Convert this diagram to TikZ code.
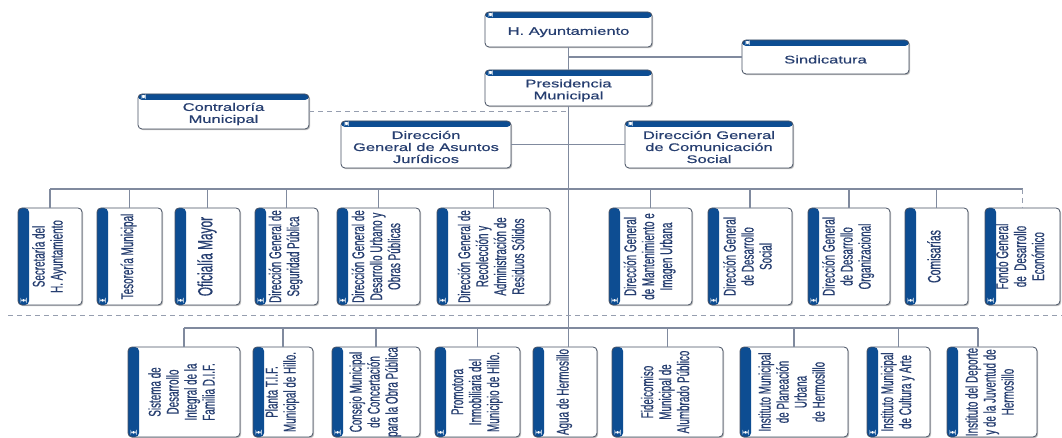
\documentclass[tikz,border=0pt]{standalone}
\usepackage{fontspec}
\usetikzlibrary{shadows}
\setmainfont{Liberation Sans}
\newfontfamily\hfont[FakeStretch=1.5,FakeBold=0.6]{Liberation Sans}
\newfontfamily\vfont[FakeStretch=0.58,FakeBold=0.5]{Liberation Sans}
\definecolor{band}{RGB}{13,77,146}
\definecolor{boxline}{RGB}{70,80,98}
\definecolor{conn}{RGB}{128,138,158}
\definecolor{dconn}{RGB}{150,158,175}
\definecolor{txt}{RGB}{38,62,112}
\newcommand\rottext[2][17]{\rotatebox{90}{\vfont\fontsize{#1}{18}\selectfont\begin{tabular}{@{}c@{}}#2\end{tabular}}}
\tikzset{
  orgbox/.style={draw=boxline, line width=0.8pt, fill=white, rounded corners=4pt,
    inner sep=0pt, text=txt,
    drop shadow={shadow xshift=1.2pt, shadow yshift=-1.2pt, fill=black, opacity=0.25}},
  htext/.style={align=center, font=\hfont\fontsize{11}{12}\selectfont, text=txt, inner sep=0pt, yshift=-2.5pt},
  hunit/.style={orgbox,
    path picture={
      \fill[band] (path picture bounding box.north west) rectangle ([yshift=-6pt]path picture bounding box.north east);
      \fill[white] ([xshift=3.5pt,yshift=-1.2pt]path picture bounding box.north west) rectangle ++(4pt,-3pt);}},
  vunit/.style={orgbox,
    path picture={
      \fill[band] (path picture bounding box.south west) rectangle ([xshift=11pt]path picture bounding box.north west);
      \fill[white] ([xshift=2.5pt,yshift=3.5pt]path picture bounding box.south west) rectangle ++(6pt,2.5pt);}},
  conn/.style={draw=conn, line width=1.1pt},
  dconn/.style={draw=dconn, line width=1pt, dash pattern=on 5pt off 4pt},
}
\begin{document}
\begin{tikzpicture}[x=1pt,y=-1pt]
\useasboundingbox (0,0) rectangle (1062,438);
\clip (0,0) rectangle (1062,438);
% top level boxes
\node[hunit, minimum width=167pt, minimum height=35pt, label={[htext]center:H. Ayuntamiento}] (ayun) at (568.5,29.5) {};
\node[hunit, minimum width=167pt, minimum height=34pt, label={[htext]center:Sindicatura}] (sind) at (825.5,57) {};
\node[hunit, minimum width=167pt, minimum height=36pt, label={[htext]center:{Presidencia\\Municipal}}] (pres) at (568.5,88) {};
\node[hunit, minimum width=171pt, minimum height=35pt, label={[htext]center:{Contraloría\\Municipal}}] (contra) at (223.5,111.5) {};
\node[hunit, minimum width=170pt, minimum height=47pt, label={[htext]center:{Dirección\\General de Asuntos\\Jurídicos}}] (jur) at (426,144.5) {};
\node[hunit, minimum width=168pt, minimum height=47pt, label={[htext]center:{Dirección General\\de Comunicación\\Social}}] (com) at (709,144.5) {};
% middle row
\node[vunit, minimum width=64pt, minimum height=97pt] (m1) at (50,256.5) {\rottext{Secretaría del\\H. Ayuntamiento}};
\node[vunit, minimum width=65pt, minimum height=97pt] (m2) at (129.5,256.5) {\rottext{Tesorería Municipal}};
\node[vunit, minimum width=65pt, minimum height=97pt] (m3) at (207.5,256.5) {\rottext[20.5]{Oficialía Mayor}};
\node[vunit, minimum width=63pt, minimum height=97pt] (m4) at (286.5,256.5) {\rottext{Dirección General de\\Seguridad Pública}};
\node[vunit, minimum width=83pt, minimum height=97pt] (m5) at (378.5,256.5) {\rottext{Dirección General de\\Desarrollo Urbano y\\Obras Públicas}};
\node[vunit, minimum width=113pt, minimum height=97pt] (m6) at (493.5,256.5) {\rottext{Dirección General de\\Recolección y\\Administración de\\Residuos Sólidos}};
\node[vunit, minimum width=83pt, minimum height=97pt] (m7) at (650.5,256.5) {\rottext{Dirección General\\de Mantenimiento e\\Imagen Urbana}};
\node[vunit, minimum width=84pt, minimum height=97pt] (m8) at (750,256.5) {\rottext{Dirección General\\de Desarrollo\\Social}};
\node[vunit, minimum width=82pt, minimum height=97pt] (m9) at (849,256.5) {\rottext{Dirección General\\de Desarrollo\\Organizacional}};
\node[vunit, minimum width=63pt, minimum height=97pt] (m10) at (936.5,256.5) {\rottext[18]{Comisarías}};
\node[vunit, minimum width=75pt, minimum height=97pt] (m11) at (1022.5,256.5) {\rottext{Fondo General\\de\ \ Desarrollo\\Económico}};
% bottom row
\node[vunit, minimum width=112pt, minimum height=90pt] (b1) at (184,392) {\rottext{Sistema de\\Desarrollo\\Integral de la\\Familia D.I.F.}};
\node[vunit, minimum width=60pt, minimum height=90pt] (b2) at (283,392) {\rottext{Planta T.I.F.\\Municipal de Hillo.}};
\node[vunit, minimum width=88pt, minimum height=90pt] (b3) at (376,392) {\rottext{Consejo Municipal\\de Concertación\\para la Obra Pública}};
\node[vunit, minimum width=85pt, minimum height=90pt] (b4) at (477.5,392) {\rottext{Promotora\\Inmobiliaria del\\Municipio de Hillo.}};
\node[vunit, minimum width=64pt, minimum height=90pt] (b5) at (565,392) {\rottext{Agua de Hermosillo}};
\node[vunit, minimum width=111pt, minimum height=90pt] (b6) at (667.5,392) {\rottext{Fideicomiso\\Municipal de\\Alumbrado Público}};
\node[vunit, minimum width=108pt, minimum height=90pt] (b7) at (794,392) {\rottext{Instituto Municipal\\de Planeación\\Urbana\\de Hermosillo}};
\node[vunit, minimum width=63pt, minimum height=90pt] (b8) at (898.5,392) {\rottext{Instituto Municipal\\de Cultura y Arte}};
\node[vunit, minimum width=90pt, minimum height=90pt] (b9) at (992,392) {\rottext{Instituto del Deporte\\y de la Juventud de\\Hermosillo}};
% helper coordinates
\coordinate (bus) at (0,189);
\coordinate (bbus) at (0,328);
\coordinate (sepL) at (8,315);
\coordinate (sepR) at (1062,315);
\coordinate (b9top) at ([xshift=-14pt]b9.north);
% connectors
\draw[conn] (ayun.south) -- (pres.north);
\draw[conn] (ayun.south |- sind.west) -- (sind.west);
\draw[conn] (pres.south) -- (pres.south |- b5.north);
\draw[dconn] (contra.east) -- (pres.south |- contra.east);
\draw[conn] (jur.east) -- (pres.south |- jur.east);
\draw[conn] (com.west) -- (pres.south |- com.west);
\draw[conn] (m1.north |- bus) -- (m11.north |- bus);
\foreach \n in {m1,m2,m3,m4,m5,m6,m7,m8,m9,m10}{\draw[conn] (\n.north) -- (\n.north |- bus);}
\draw[dconn] (m11.north |- bus) -- (m11.north);
\draw[dconn] (sepL) -- (sepR);
\draw[conn] (b1.north |- bbus) -- (b9top |- bbus);
\foreach \n in {b1,b2,b3,b4,b6,b7,b8}{\draw[conn] (\n.north) -- (\n.north |- bbus);}
\draw[conn] (b9top) -- (b9top |- bbus);
\end{tikzpicture}
\end{document}
